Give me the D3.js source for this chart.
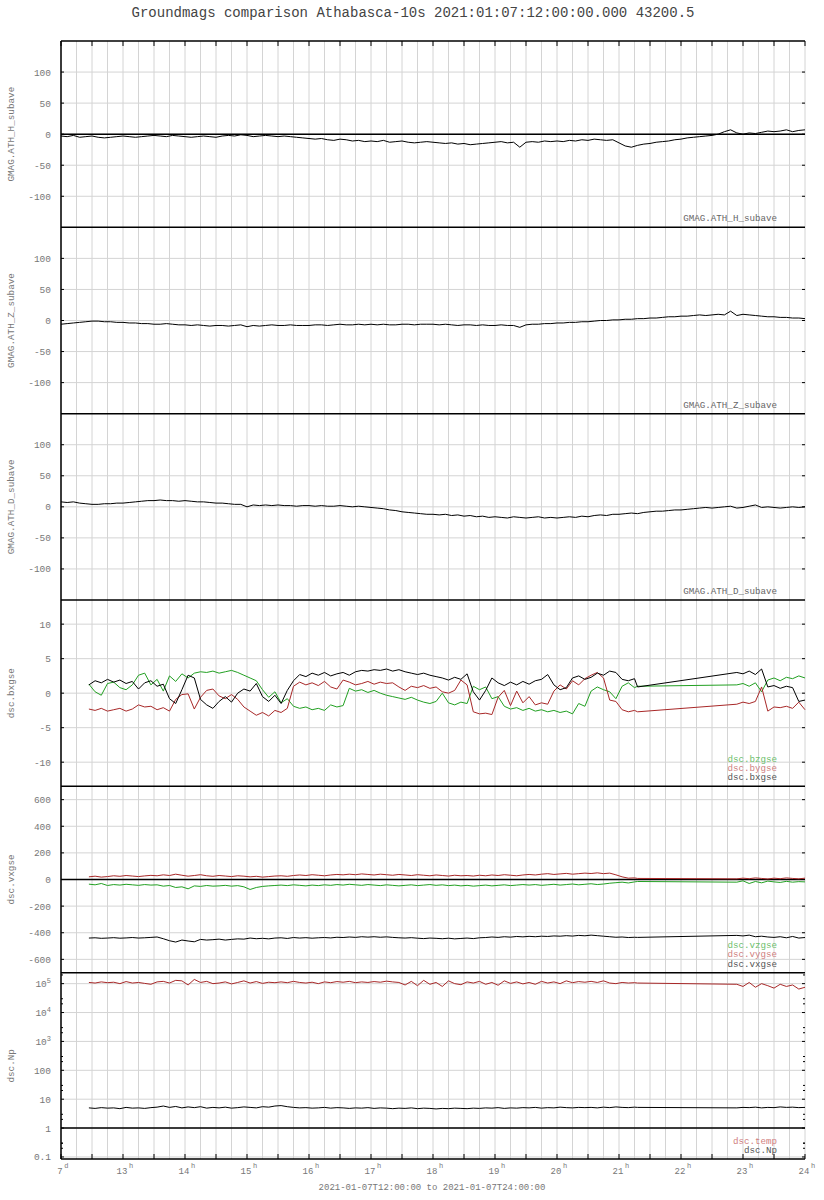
<!DOCTYPE html>
<html><head><meta charset="utf-8">
<script src="https://cdn.jsdelivr.net/npm/d3@7"></script>
<style>body{margin:0;background:#fff}text{font-family:"Liberation Mono","DejaVu Sans Mono",monospace}</style>
</head><body><svg id="c" width="824" height="1200"></svg>
<script>
// ---------- data ----------
const title = "Groundmags comparison Athabasca-10s 2021:01:07:12:00:00.000 43200.5";
const xLabel = "2021-01-07T12:00:00 to 2021-01-07T24:00:00";
const xTickHours = [12,13,14,15,16,17,18,19,20,21,22,23,24];
const xTickLabels = ["7","13","14","15","16","17","18","19","20","21","22","23","24"];
const xTickSups = ["d","h","h","h","h","h","h","h","h","h","h","h","h"];

// ground magnetometer sample times (hours, 0.1 h cadence 12..24)
const gmagTimes = d3.range(0, 121).map(i => 12 + i * 0.1);
const gmagH = [-3,-4,-2,-5,-4,-3,-5,-6,-5,-4, -3,-4,-5,-4,-3,-2,-3,-4,-2,-3, -4,-5,-4,-3,-4,-5,-3,-2,-3,-1,
  -2,-4,-3,-2,-3,-4,-3,-4,-5,-6, -7,-8,-7,-9,-10,-8,-9,-11,-10,-12, -11,-12,-10,-13,-12,-11,-13,-14,-13,-12,
  -13,-14,-15,-14,-16,-15,-17,-16,-15,-14, -13,-12,-14,-13,-21,-13,-12,-13,-11,-12, -11,-12,-10,-11,-9,-10,-8,-9,-10,-9,
  -14,-19,-21,-18,-16,-15,-13,-12,-11,-9, -8,-6,-5,-4,-3,-2,0,4,7,2, 0,2,1,3,5,4,5,7,4,6, 7];
const gmagZ = [-6,-5,-4,-3,-2,-1,-1,-2,-2,-3, -3,-4,-4,-5,-5,-6,-6,-5,-6,-7, -7,-8,-7,-8,-9,-8,-8,-9,-8,-7,
  -10,-8,-9,-8,-7,-8,-8,-7,-8,-8, -8,-7,-7,-8,-7,-6,-7,-7,-6,-7, -6,-7,-6,-7,-7,-6,-6,-7,-6,-6,
  -6,-7,-6,-7,-8,-7,-7,-8,-7,-8, -8,-7,-8,-8,-11,-7,-6,-6,-5,-5, -4,-4,-3,-3,-2,-2,-1,0,0,1,
  1,2,2,3,3,4,4,5,6,6, 7,7,8,9,8,9,10,9,15,8, 10,9,8,7,6,6,5,5,4,4, 3];
const gmagD = [8,7,8,6,5,4,4,5,5,6, 6,7,8,9,10,10,11,10,10,9, 10,9,8,8,7,6,6,5,4,4,
  0,3,2,3,2,3,2,2,1,2, 2,1,2,1,1,2,1,0,1,0, -1,-2,-3,-5,-6,-8,-9,-10,-11,-12,
  -12,-13,-12,-14,-13,-15,-14,-16,-15,-17, -16,-17,-18,-16,-17,-18,-17,-16,-18,-17, -18,-17,-16,-17,-15,-16,-14,-13,-14,-12,
  -12,-11,-10,-11,-9,-8,-7,-7,-6,-5, -5,-4,-3,-2,-1,-2,-1,0,1,-2, -1,1,3,-1,0,-1,-2,-1,0,-1, 0];

// DSCOVR sample times: 12.45..21.25 every 0.1 h, 21.3, then 22.9..24.0 (data gap between)
const dscTimes = [...d3.range(0, 89).map(i => 12.45 + i * 0.1), 21.3, ...d3.range(0, 12).map(i => 22.9 + i * 0.1)];
const bx = [1.2,1.8,1.5,2.0,1.6,1.9,1.4,1.7,0.6,1.5,1.8, 1.0,1.3,-0.8,-1.5,0.5,2.6,2.2,-0.9,-1.7,-2.2,
  -1.2,-0.5,-1.3,0.0,0.6,0.3,1.4,-0.5,-1.2,-0.3, -1.5,0.4,1.8,2.7,2.4,2.9,2.6,3.0,2.5,2.8,
  3.0,2.6,3.1,3.3,3.2,3.4,3.3,3.5,3.2,3.4, 3.1,2.9,2.7,2.9,2.6,2.4,2.2,1.9,2.3,2.0,
  2.8,0.2,-1.0,0.4,2.2,1.5,1.1,1.6,1.2,1.7, 1.3,1.8,2.0,2.7,1.2,0.5,0.8,2.2,2.5,2.0,
  2.3,2.9,2.6,3.2,3.0,2.0,1.8,2.1, 0.9,
  3.0,2.8,3.2,2.7,3.5,0.9,1.1,0.7,1.0,0.8,-1.2,-1.0];
const by = [-2.3,-2.5,-2.2,-2.6,-2.4,-2.2,-2.6,-2.3,-1.7,-2.0,-1.9, -2.4,-2.1,-2.6,-0.9,-0.2,-0.1,-2.3,-0.6,0.4,0.6,
  -0.4,-0.8,-0.2,-0.9,-2.0,-2.6,-3.2,-2.8,-3.3,-2.5, -2.8,-2.2,1.0,1.6,1.2,1.5,1.1,1.7,0.9,0.6,
  1.9,1.6,1.2,1.4,1.7,1.3,1.6,1.4,1.5,0.9, 0.4,1.0,0.8,1.1,0.7,0.9,0.2,0.0,0.4,1.9,
  1.2,-2.7,-3.0,-2.9,-3.1,-0.6,0.4,-1.8,0.3,-1.4, -0.5,-1.7,-1.4,-1.6,0.3,1.2,0.6,1.8,1.2,2.1,
  2.6,3.0,2.2,-1.0,-1.2,-2.4,-2.7,-2.5, -2.7,
  -1.6,-1.3,-1.5,-1.2,0.9,-2.6,-2.0,-2.1,-1.9,-2.2,-1.3,-2.4];
const bz = [1.3,0.2,-0.3,1.4,1.6,0.8,0.5,1.2,2.6,2.9,1.2, 2.0,0.3,2.5,1.7,2.8,2.2,2.9,3.1,3.0,3.2,
  2.9,3.1,3.3,3.0,2.6,2.2,1.8,0.5,-0.6,0.2, -1.4,-0.8,-1.9,-2.2,-2.0,-2.4,-2.2,-2.5,-1.7,-2.0,
  -1.8,0.7,0.3,0.5,0.1,0.4,0.0,-0.3,-0.5,-0.7, -0.9,-0.6,-1.0,-1.3,-1.5,-1.2,0.0,-1.4,-1.7,-1.3,
  -1.5,1.0,0.5,0.9,-0.8,-0.5,-1.9,-2.3,-2.1,-2.5, -2.2,-2.6,-2.4,-2.7,-2.5,-2.8,-2.6,-3.0,-1.5,-1.9,
  0.3,0.9,0.5,0.2,-0.8,1.0,1.5,0.8, 1.0,
  1.2,1.4,1.0,1.5,0.2,1.9,2.2,1.8,2.3,2.1,2.5,2.2];
const vx = [-440,-438,-442,-440,-437,-441,-439,-436,-440,-438,-435,
  -432,-445,-460,-470,-455,-462,-468,-450,-455,-452, -448,-455,-450,-446,-448,-440,-445,-442,-446,-440,
  -438,-443,-436,-440,-437,-441,-438,-436,-439,-434, -436,-432,-435,-430,-433,-430,-434,-431,-435,-438,
  -440,-437,-441,-444,-440,-442,-445,-441,-446,-443, -440,-444,-438,-436,-432,-435,-430,-433,-428,-431,
  -427,-430,-426,-428,-424,-426,-422,-425,-420,-423, -418,-422,-426,-430,-434,-432,-436,-434, -435,
  -420,-424,-418,-430,-426,-432,-435,-430,-438,-428,-440,-436];
const vy = [20,25,18,22,28,24,30,26,22,27,31, 28,35,30,40,32,25,30,36,28,24, 30,26,22,28,25,20,24,18,22,26,
  28,24,30,34,30,36,32,28,34,38, 35,40,36,42,38,34,40,36,32,38, 34,30,36,32,28,34,30,26,32,28,
  30,26,32,28,34,30,36,32,28,34, 38,34,40,44,38,42,46,40,44,48, 45,50,44,48,35,20,10,12, 8,
  5,10,6,12,8,4,10,6,12,8,5,10];
const vz = [-35,-40,-30,-45,-38,-42,-36,-40,-44,-38,-42, -40,-50,-45,-60,-55,-70,-48,-52,-45,-50,
  -48,-44,-50,-46,-55,-75,-60,-52,-48,-45, -42,-46,-40,-44,-48,-42,-46,-40,-44,-38,
  -42,-36,-40,-44,-38,-42,-46,-40,-44,-48, -44,-40,-46,-42,-38,-44,-40,-46,-42,-48,
  -44,-50,-46,-42,-48,-44,-40,-46,-42,-38, -42,-38,-44,-40,-36,-42,-38,-34,-40,-36,
  -32,-38,-34,-28,-24,-20,-26,-18, -15,
  -20,-10,-30,-15,-25,-12,-18,-22,-14,-20,-16,-18];
const temp = [110e3,105e3,115e3,108e3,112e3,100e3,118e3,105e3,110e3,102e3,95e3,
  115e3,120e3,105e3,130e3,125e3,90e3,140e3,110e3,120e3,100e3, 105e3,115e3,98e3,110e3,125e3,105e3,118e3,102e3,112e3,108e3,
  115e3,108e3,120e3,110e3,105e3,112e3,100e3,115e3,108e3,118e3, 112e3,120e3,108e3,115e3,110e3,118e3,112e3,122e3,115e3,110e3,
  90e3,120e3,85e3,130e3,95e3,110e3,80e3,125e3,100e3,92e3, 115e3,105e3,120e3,95e3,110e3,88e3,125e3,102e3,115e3,98e3,
  110e3,95e3,120e3,105e3,115e3,100e3,125e3,108e3,118e3,112e3, 120e3,110e3,125e3,105e3,100e3,110e3,105e3,108e3, 105e3,
  95e3,80e3,110e3,75e3,100e3,85e3,70e3,95e3,80e3,90e3,65e3,75e3];
const np = [5.0,4.8,5.1,4.9,5.0,4.7,5.2,4.9,5.0,4.8,5.1, 5.3,5.8,5.2,5.6,5.0,5.4,5.1,5.5,4.9,5.2,
  5.0,5.3,4.9,5.1,5.4,5.2,5.0,5.5,5.3,5.8, 6.0,5.5,5.2,5.0,5.1,4.9,5.0,5.2,4.9,5.1,
  5.0,4.8,5.0,4.9,5.1,4.8,5.0,4.9,4.7,4.9, 4.8,5.0,4.7,4.9,4.8,4.6,4.8,4.7,4.9,4.8,
  4.7,4.9,4.8,5.0,4.9,5.1,4.8,5.0,4.9,5.1, 5.0,5.2,4.9,5.1,5.0,5.3,5.1,5.0,5.2,5.1,
  5.2,5.0,5.3,5.1,5.4,5.2,5.1,5.3, 5.2,
  5.0,5.2,5.1,5.3,5.0,5.2,5.1,5.4,5.2,5.3,5.1,5.2];

const magTicks = [100,50,0,-50,-100];
const bTicks = [10,5,0,-5,-10];
const vTicks = [600,400,200,0,-200,-400,-600];
const logTicks = [1e5,1e4,1e3,100,10,1,0.1];
const logTickLabels = [["10","5"],["10","4"],["10","3"],["100",""],["10",""],["1",""],["0.1",""]];

// ---------- drawing ----------
const GREEN = "#22a022", RED = "#a82828", BLACK = "#000";
const svg = d3.select("#c");
const L = 61, R = 805, TOP = 41, BOT = 1159;
const ph = (BOT - TOP) / 6;
const x = d3.scaleLinear().domain([12, 24]).range([L, R]);

const panels = [
  {label:"GMAG.ATH_H_subave", dom:[-150,150], ticks:magTicks, zero:0,
   series:[{t:gmagTimes, v:gmagH, c:BLACK}], legend:[["GMAG.ATH_H_subave","#666"]]},
  {label:"GMAG.ATH_Z_subave", dom:[-150,150], ticks:magTicks, zero:null,
   series:[{t:gmagTimes, v:gmagZ, c:BLACK}], legend:[["GMAG.ATH_Z_subave","#666"]]},
  {label:"GMAG.ATH_D_subave", dom:[-150,150], ticks:magTicks, zero:null,
   series:[{t:gmagTimes, v:gmagD, c:BLACK}], legend:[["GMAG.ATH_D_subave","#666"]]},
  {label:"dsc.bxgse", dom:[-13.5,13.5], ticks:bTicks, zero:null,
   series:[{t:dscTimes, v:bz, c:GREEN},{t:dscTimes, v:by, c:RED},{t:dscTimes, v:bx, c:BLACK}],
   legend:[["dsc.bzgse","#6cc06c"],["dsc.bygse","#d08080"],["dsc.bxgse","#555"]]},
  {label:"dsc.vxgse", dom:[-700,700], ticks:vTicks, zero:0,
   series:[{t:dscTimes, v:vx, c:BLACK},{t:dscTimes, v:vz, c:GREEN},{t:dscTimes, v:vy, c:RED}],
   legend:[["dsc.vzgse","#6cc06c"],["dsc.vygse","#d08080"],["dsc.vxgse","#555"]]},
  {label:"dsc.Np", log:true, dom:[0.085, 2.4e5], ticks:logTicks, zero:1,
   series:[{t:dscTimes, v:temp, c:RED},{t:dscTimes, v:np, c:BLACK}],
   legend:[["dsc.temp","#d08080"],["dsc.Np","#555"]]}
];

// title
svg.append("text").attr("x", 413).attr("y", 17).attr("text-anchor","middle")
  .attr("font-size", 14).attr("fill", "#444").text(title);

const minorQuarter = d3.range(0, 49).map(i => 12 + i * 0.25);

panels.forEach((p, i) => {
  const y0 = TOP + i * ph, y1 = y0 + ph;
  const y = (p.log ? d3.scaleLog() : d3.scaleLinear()).domain(p.dom).range([y1, y0]);
  const g = svg.append("g");
  // vertical grid
  g.selectAll(".vg").data(minorQuarter).join("line")
    .attr("x1", d => x(d)).attr("x2", d => x(d)).attr("y1", y0).attr("y2", y1)
    .attr("stroke", "#d4d4d4").attr("stroke-width", 1);
  // horizontal grid
  g.selectAll(".hg").data(p.ticks).join("line")
    .attr("x1", L).attr("x2", R).attr("y1", d => y(d)).attr("y2", d => y(d))
    .attr("stroke", "#d4d4d4").attr("stroke-width", 1);
  // zero/reference line
  if (p.zero !== null) {
    g.append("line").attr("x1", L).attr("x2", R).attr("y1", y(p.zero)).attr("y2", y(p.zero))
      .attr("stroke", "#000").attr("stroke-width", 1.5);
  }
  // series
  p.series.forEach(s => {
    const pts = s.t.map((t, k) => [t, s.v[k]]);
    g.append("path").datum(pts)
      .attr("d", d3.line().x(d => x(d[0])).y(d => y(d[1])))
      .attr("fill", "none").attr("stroke", s.c).attr("stroke-width", 1)
      .attr("stroke-linejoin", "round");
  });
  // left/right ticks
  g.selectAll(".lt").data(p.ticks).join("line")
    .attr("x1", L).attr("x2", L + 3).attr("y1", d => y(d)).attr("y2", d => y(d)).attr("stroke", "#000");
  g.selectAll(".rt").data(p.ticks).join("line")
    .attr("x1", R - 3).attr("x2", R).attr("y1", d => y(d)).attr("y2", d => y(d)).attr("stroke", "#000");
  if (p.log) {
    const minors = [];
    p.ticks.forEach(d => { [2, 3].forEach(m => { const v = d * m; if (v < p.dom[1]) minors.push(v); }); });
    minors.push(0.2, 0.3);
    const uniq = Array.from(new Set(minors)).filter(v => v > p.dom[0] && v < p.dom[1]);
    g.selectAll(".mt").data(uniq).join("line")
      .attr("x1", L).attr("x2", L + 2).attr("y1", d => y(d)).attr("y2", d => y(d)).attr("stroke", "#000");
    g.selectAll(".mtr").data(uniq).join("line")
      .attr("x1", R - 2).attr("x2", R).attr("y1", d => y(d)).attr("y2", d => y(d)).attr("stroke", "#000");
  }
  // tick labels
  p.ticks.forEach((d, k) => {
    const t = g.append("text").attr("x", 51).attr("y", y(d) + 3.5).attr("text-anchor", "end")
      .attr("font-size", 9.5).attr("fill", "#777");
    if (p.log) {
      const lab = logTickLabels[k];
      t.append("tspan").text(lab[0]);
      if (lab[1]) t.append("tspan").attr("dy", -4).attr("font-size", 7).text(lab[1]);
    } else {
      t.text(d);
    }
  });
  // y label
  svg.append("text").attr("transform", `translate(14,${(y0 + y1) / 2}) rotate(-90)`)
    .attr("text-anchor", "middle").attr("font-size", 9.3).attr("fill", "#777").text(p.label);
  // legend
  const n = p.legend.length;
  p.legend.forEach((lg, k) => {
    svg.append("text").attr("x", 777).attr("y", y1 - 6 - (n - 1 - k) * 9.3)
      .attr("text-anchor", "end").attr("font-size", 9.2).attr("fill", lg[1]).text(lg[0]);
  });
  // panel borders (top of each)
  svg.append("line").attr("x1", L).attr("x2", R).attr("y1", y0).attr("y2", y0)
    .attr("stroke", "#000").attr("stroke-width", 1.5);
});
// bottom border and left axis
svg.append("line").attr("x1", L).attr("x2", R).attr("y1", BOT).attr("y2", BOT).attr("stroke", "#000").attr("stroke-width", 1.5);
svg.append("line").attr("x1", L).attr("x2", L).attr("y1", TOP).attr("y2", BOT).attr("stroke", "#000").attr("stroke-width", 1.5);

// x ticks (every 30 min) top and bottom
const halfHours = d3.range(0, 25).map(i => 12 + i * 0.5);
svg.selectAll(".xtb").data(halfHours).join("line")
  .attr("x1", d => x(d)).attr("x2", d => x(d)).attr("y1", BOT).attr("y2", BOT - 5).attr("stroke", "#000");
svg.selectAll(".xtt").data(halfHours).join("line")
  .attr("x1", d => x(d)).attr("x2", d => x(d)).attr("y1", TOP).attr("y2", TOP + 5).attr("stroke", "#000");

// x tick labels
xTickHours.forEach((h, k) => {
  svg.append("text").attr("x", x(h) - 1).attr("y", 1174).attr("text-anchor", "middle")
    .attr("font-size", 9).attr("fill", "#777").text(xTickLabels[k]);
  const w = xTickLabels[k].length * 5.4;
  svg.append("text").attr("x", x(h) - 1 + w / 2 + 1.5).attr("y", 1168)
    .attr("font-size", 7).attr("fill", "#777").text(xTickSups[k]);
});
svg.append("text").attr("x", 432).attr("y", 1190).attr("text-anchor", "middle")
  .attr("font-size", 9).attr("fill", "#777").text(xLabel);
</script></body></html>
